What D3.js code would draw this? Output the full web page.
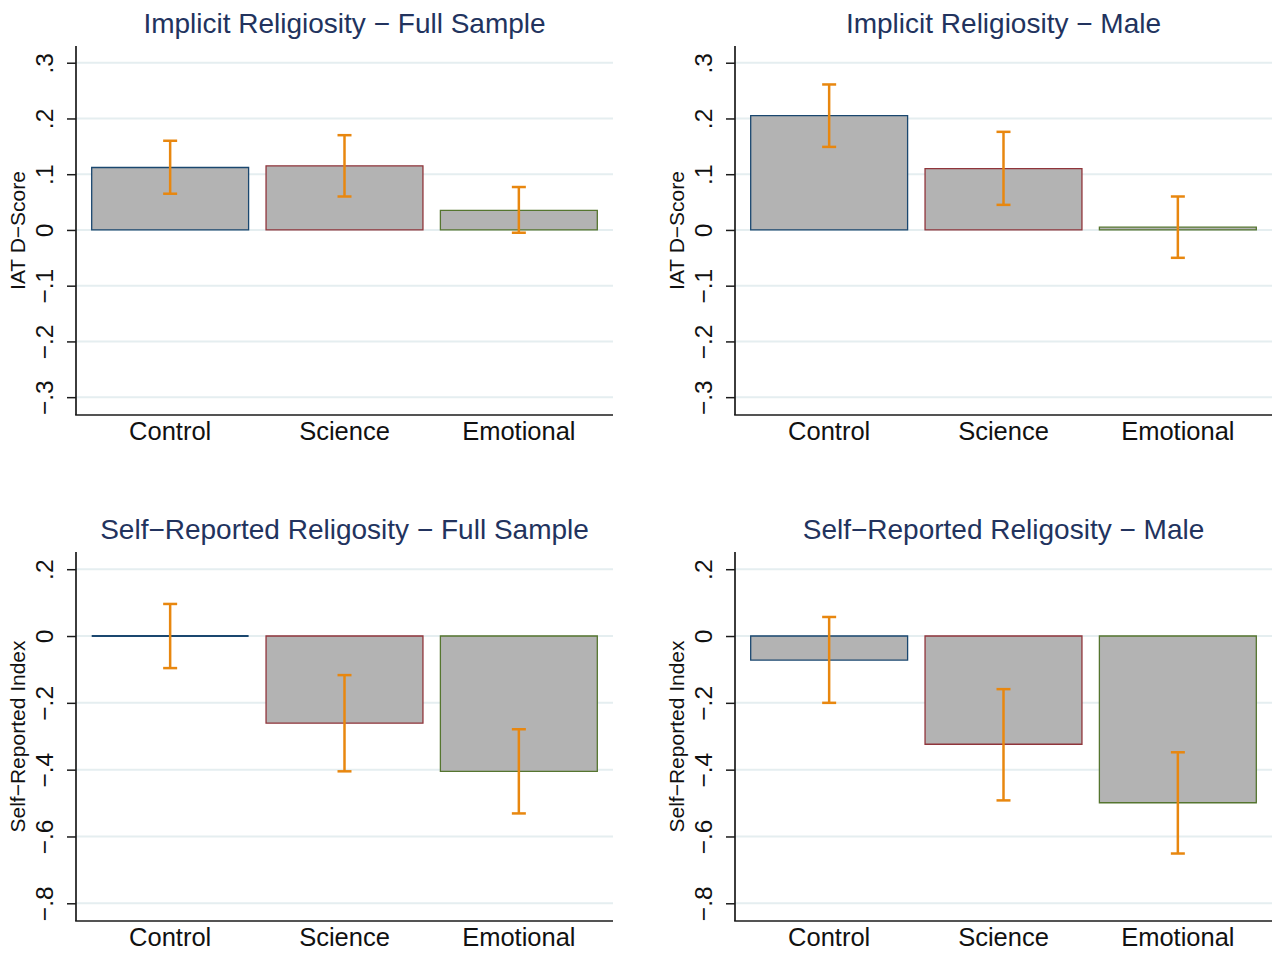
<html>
<meta charset="utf-8">
<head>
<script src="https://d3js.org/d3.v7.min.js"></script>
<style>
html, body { margin:0; padding:0; background:#fff; }
svg { display:block; }
</style>
</head>
<body>
<svg class="svg"></svg>
<script>

// data
const categories = ["Control", "Science", "Emotional"];

const implicitFull   = [0.112, 0.115, 0.035];
const implicitFullLo = [0.065, 0.060, -0.005];
const implicitFullHi = [0.160, 0.170, 0.077];

const implicitMale   = [0.205, 0.110, 0.005];
const implicitMaleLo = [0.149, 0.045, -0.050];
const implicitMaleHi = [0.261, 0.176, 0.060];

const selfFull   = [0.000, -0.261, -0.405];
const selfFullLo = [-0.096, -0.405, -0.531];
const selfFullHi = [0.096, -0.117, -0.279];

const selfMale   = [-0.072, -0.324, -0.499];
const selfMaleLo = [-0.200, -0.492, -0.651];
const selfMaleHi = [0.057, -0.159, -0.348];

const implicitTicks = [-0.3, -0.2, -0.1, 0, 0.1, 0.2, 0.3];
const selfTicks = [-0.8, -0.6, -0.4, -0.2, 0, 0.2];

const barStroke = ["#1a476f", "#90353b", "#55752f"];
const ciColor = "#e8870f";
const font = "'Liberation Sans', Arial, Helvetica, sans-serif";

const svg = d3.select("svg")
  .attr("width", 1277)
  .attr("height", 955);

const panels = [
  {title: "Implicit Religiosity \u2212 Full Sample", ytitle: "IAT D\u2212Score",
   x0: 76, x1: 613, top: 46, bottom: 415, domain: [-0.332, 0.33], ticks: implicitTicks,
   vals: implicitFull, lo: implicitFullLo, hi: implicitFullHi},
  {title: "Implicit Religiosity \u2212 Male", ytitle: "IAT D\u2212Score",
   x0: 735, x1: 1272, top: 46, bottom: 415, domain: [-0.332, 0.33], ticks: implicitTicks,
   vals: implicitMale, lo: implicitMaleLo, hi: implicitMaleHi},
  {title: "Self\u2212Reported Religosity \u2212 Full Sample", ytitle: "Self\u2212Reported Index",
   x0: 76, x1: 613, top: 552, bottom: 921, domain: [-0.853, 0.2515], ticks: selfTicks,
   vals: selfFull, lo: selfFullLo, hi: selfFullHi},
  {title: "Self\u2212Reported Religosity \u2212 Male", ytitle: "Self\u2212Reported Index",
   x0: 735, x1: 1272, top: 552, bottom: 921, domain: [-0.853, 0.2515], ticks: selfTicks,
   vals: selfMale, lo: selfMaleLo, hi: selfMaleHi}
];

// stata style tick labels: .3, -.2, 0
function fmt(v) {
  if (Math.abs(v) < 1e-9) return "0";
  let s = d3.format(".1f")(Math.abs(v)).replace(/^0/, "");
  return (v < 0 ? "\u2212" : "") + s;
}

panels.forEach(function(p) {
  const g = svg.append("g");

  const x = d3.scaleBand()
    .domain(categories)
    .range([p.x0, p.x1])
    .paddingInner(0.1)
    .paddingOuter(0.09);

  const y = d3.scaleLinear()
    .domain(p.domain)
    .range([p.bottom, p.top]);

  // gridlines
  g.selectAll(".grid")
    .data(p.ticks)
    .enter().append("line")
    .attr("x1", p.x0)
    .attr("x2", p.x1)
    .attr("y1", d => y(d))
    .attr("y2", d => y(d))
    .attr("stroke", "#e5eef0")
    .attr("stroke-width", 2);

  // bars (path so zero-height bars still show their outline)
  const rows = categories.map((c, i) => ({cat: c, v: p.vals[i], lo: p.lo[i], hi: p.hi[i], i: i}));

  g.selectAll(".bar")
    .data(rows)
    .enter().append("path")
    .attr("d", function(d) {
      const xa = x(d.cat), xb = x(d.cat) + x.bandwidth();
      const ya = y(0), yb = y(d.v);
      return "M" + xa + "," + ya + "H" + xb + "V" + yb + "H" + xa + "Z";
    })
    .attr("fill", "#b3b3b3")
    .attr("stroke", d => barStroke[d.i])
    .attr("stroke-width", d => Math.abs(d.v) < 1e-9 ? 2.2 : 1.3);

  // error bars
  const cap = 7;
  rows.forEach(function(d) {
    const cx = x(d.cat) + x.bandwidth() / 2;
    g.append("line")
      .attr("x1", cx).attr("x2", cx)
      .attr("y1", y(d.lo)).attr("y2", y(d.hi))
      .attr("stroke", ciColor).attr("stroke-width", 2.5);
    [d.lo, d.hi].forEach(function(e) {
      g.append("line")
        .attr("x1", cx - cap).attr("x2", cx + cap)
        .attr("y1", y(e)).attr("y2", y(e))
        .attr("stroke", ciColor).attr("stroke-width", 2.5);
    });
  });

  // y axis
  const yAxis = d3.axisLeft(y)
    .tickValues(p.ticks)
    .tickSize(9)
    .tickSizeOuter(0)
    .tickFormat(fmt);

  const ya = g.append("g")
    .attr("transform", "translate(" + p.x0 + ",0)")
    .call(yAxis);
  ya.select(".domain")
    .attr("d", "M0," + p.top + "V" + p.bottom)
    .attr("stroke", "#1b1b1b")
    .attr("stroke-width", 1.7);
  ya.selectAll(".tick line").attr("stroke", "#1b1b1b").attr("stroke-width", 1.5);
  ya.selectAll(".tick text")
    .attr("x", null)
    .attr("dy", null)
    .attr("transform", "translate(-23,0) rotate(-90)")
    .attr("text-anchor", "middle")
    .style("font-family", font)
    .style("font-size", "24.5px")
    .attr("fill", "#111");

  // x axis line
  g.append("line")
    .attr("x1", p.x0 - 0.85).attr("x2", p.x1)
    .attr("y1", p.bottom).attr("y2", p.bottom)
    .attr("stroke", "#1b1b1b")
    .attr("stroke-width", 1.7);

  // category labels
  g.selectAll(".cat")
    .data(categories)
    .enter().append("text")
    .attr("x", d => x(d) + x.bandwidth() / 2)
    .attr("y", p.bottom + 25)
    .attr("text-anchor", "middle")
    .style("font-family", font)
    .style("font-size", "25.5px")
    .attr("fill", "#111")
    .text(d => d);

  // panel title
  g.append("text")
    .attr("x", (p.x0 + p.x1) / 2)
    .attr("y", p.top - 13)
    .attr("text-anchor", "middle")
    .style("font-family", font)
    .style("font-size", "28px")
    .attr("fill", "#22335e")
    .text(p.title);

  // y axis title
  g.append("text")
    .attr("transform", "translate(" + (p.x0 - 51) + "," + ((p.top + p.bottom) / 2) + ") rotate(-90)")
    .attr("text-anchor", "middle")
    .style("font-family", font)
    .style("font-size", "21px")
    .attr("fill", "#111")
    .text(p.ytitle);
});

</script>
</body>
</html>
